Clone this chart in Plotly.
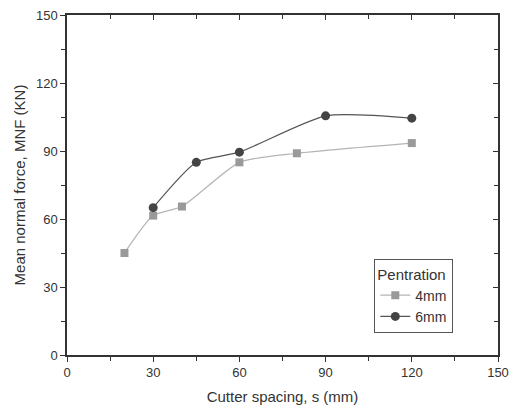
import plotly.graph_objects as go

x_4mm = [20, 30, 40, 60, 80, 120]
y_4mm = [45, 61.5, 65.5, 85, 89, 93.5]
x_6mm = [30, 45, 60, 90, 120]
y_6mm = [65, 85, 89.5, 105.5, 104.5]
tick_vals = [0, 30, 60, 90, 120, 150]

fig = go.Figure()
fig.add_trace(go.Scatter(
    x=x_4mm, y=y_4mm, name="4mm", mode="lines+markers",
    line=dict(color="#b4b4b4", width=1.2, shape="spline", smoothing=0.6),
    marker=dict(symbol="square", size=8, color="#9a9a9a"),
))
fig.add_trace(go.Scatter(
    x=x_6mm, y=y_6mm, name="6mm", mode="lines+markers",
    line=dict(color="#555555", width=1.2, shape="spline", smoothing=0.6),
    marker=dict(symbol="circle", size=9, color="#444444"),
))
# invisible trace to activate mirrored inside-tick axes
fig.add_trace(go.Scatter(x=[None], y=[None], xaxis="x2", yaxis="y2",
                         showlegend=False, hoverinfo="skip"))

tickfont = dict(family="Liberation Sans, Arial, sans-serif", size=13, color="#333333")
axis_common = dict(range=[0, 150], tickvals=tick_vals, showgrid=False, zeroline=False,
                   showline=True, linecolor="#333333", linewidth=1.5, automargin=False,
                   tickcolor="#333333", ticklen=5, tickwidth=1.3)

fig.update_layout(
    width=513, height=411,
    margin=dict(l=67, r=15, t=15, b=56),
    paper_bgcolor="white", plot_bgcolor="white",
    font=dict(family="Liberation Sans, Arial, sans-serif", color="#333333"),
    xaxis=dict(**axis_common, ticks="outside", tickfont=tickfont,
               minor=dict(dtick=15, ticks="outside", ticklen=4, tickcolor="#333333"),
               title=dict(text="Cutter spacing, s (mm)", font=dict(size=15), standoff=12)),
    yaxis=dict(**axis_common, ticks="outside", tickfont=tickfont,
               minor=dict(dtick=15, ticks="outside", ticklen=4, tickcolor="#333333"),
               title=dict(text="Mean normal force, MNF (KN)", font=dict(size=15), standoff=7)),
    xaxis2=dict(**axis_common, overlaying="x", side="top", anchor="y", ticks="inside",
                showticklabels=False,
                minor=dict(dtick=15, ticks="inside", ticklen=4, tickcolor="#333333")),
    yaxis2=dict(**axis_common, overlaying="y", side="right", anchor="x", ticks="inside",
                showticklabels=False,
                minor=dict(dtick=15, ticks="inside", ticklen=4, tickcolor="#333333")),
    legend=dict(x=0.713, y=0.282, xanchor="left", yanchor="top",
                bordercolor="#555555", borderwidth=1, bgcolor="white",
                title=dict(text="Pentration", font=dict(size=15)),
                font=dict(size=14), tracegroupgap=0, itemwidth=30),
    showlegend=True,
)

fig.write_html("out.html",
               config={"displayModeBar": False},
               post_script="document.body.style.margin='0';document.body.style.overflow='hidden';")
